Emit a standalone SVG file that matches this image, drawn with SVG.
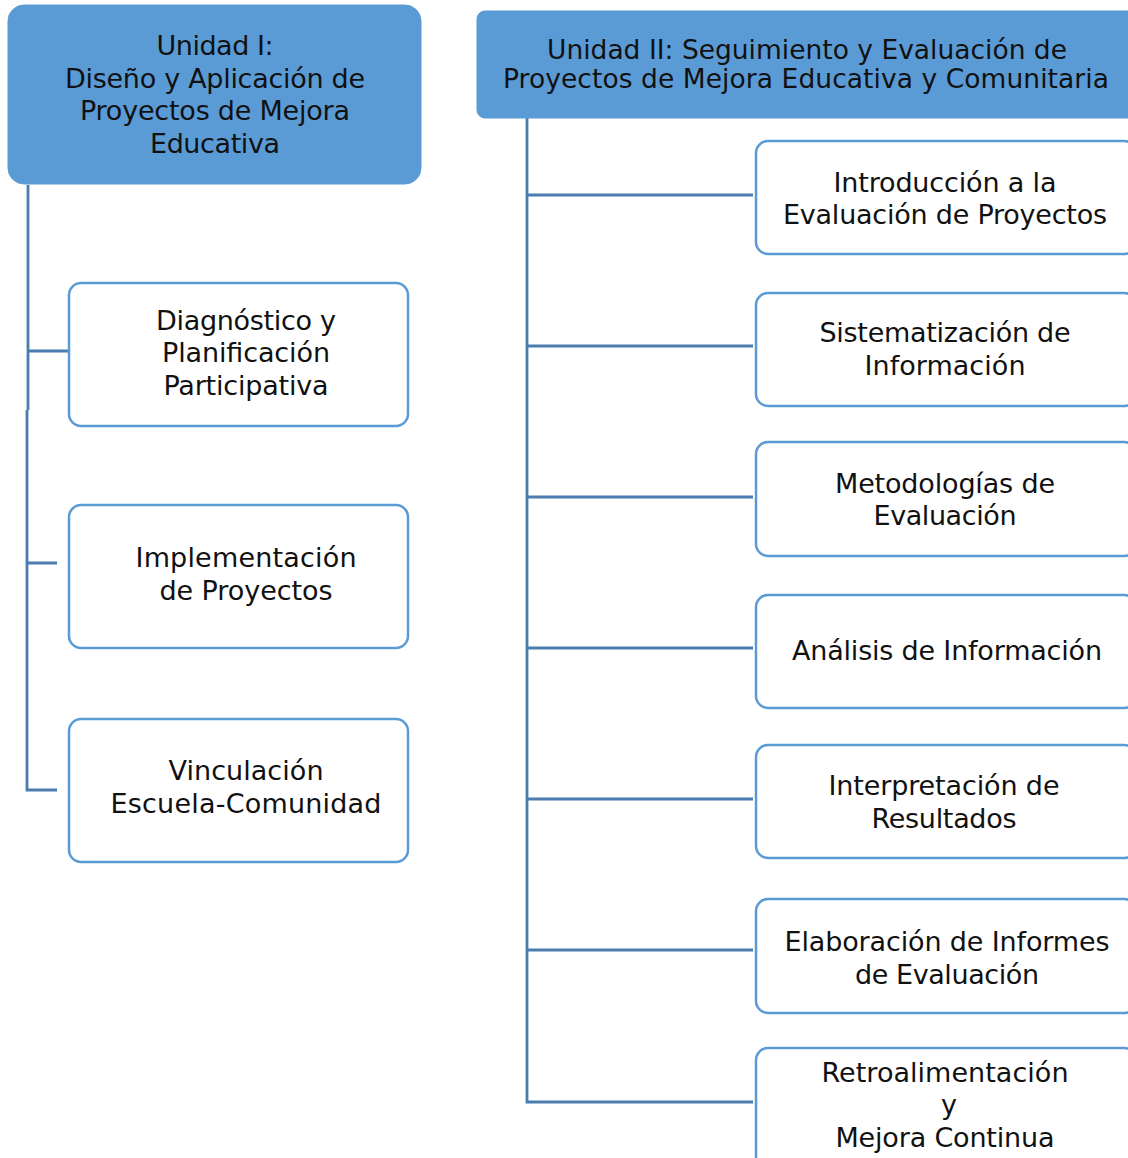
<svg xmlns="http://www.w3.org/2000/svg" width="1128" height="1158" viewBox="0 0 1128 1158">
<style>
.hdr{fill:#5B9BD5;stroke:#5B9BD5;stroke-width:1}
.box{fill:#FFFFFF;stroke:#5B9BD5;stroke-width:2.5}
.t{font-family:"DejaVu Sans","Noto Sans",sans-serif;font-size:27px;fill:#111111;text-anchor:middle}
.th{font-family:"DejaVu Sans","Noto Sans",sans-serif;font-size:26.5px;fill:#111111;text-anchor:middle}
.ln{fill:none;stroke:#4A7CAF;stroke-width:2.8}
</style>
<rect width="1128" height="1158" fill="#FFFFFF"/>
<g id="connectors">
<path class="ln" d="M28,185 V410 M27,410 V790 H57 M28,351 H73 M27,563 H57"/>
<path class="ln" d="M527,118 V1102 H753 M527,195 H753 M527,346 H753 M527,497 H753 M527,648 H753 M527,799 H753 M527,950 H753"/>
</g>
<g id="unidad1">
<rect class="hdr" x="8" y="5" width="413" height="179" rx="16"/>
<text class="t"><tspan x="215" y="55" textLength="117">Unidad I:</tspan><tspan x="215" y="88" textLength="300">Diseño y Aplicación de</tspan><tspan x="215" y="120" textLength="270">Proyectos de Mejora</tspan><tspan x="215" y="153" textLength="130">Educativa</tspan></text>
</g>
<g id="unidad2">
<rect class="hdr" x="477" y="11" width="670" height="107" rx="8"/>
<text class="th"><tspan x="807" y="59" textLength="520">Unidad II: Seguimiento y Evaluación de</tspan><tspan x="806" y="88" textLength="606">Proyectos de Mejora Educativa y Comunitaria</tspan></text>
</g>
<g id="diagnostico">
<rect class="box" x="69" y="283" width="339" height="143" rx="12"/>
<text class="t"><tspan x="246" y="330" textLength="180">Diagnóstico y</tspan><tspan x="246" y="362" textLength="168">Planificación</tspan><tspan x="246" y="395" textLength="165">Participativa</tspan></text>
</g>
<g id="implementacion">
<rect class="box" x="69" y="505" width="339" height="143" rx="12"/>
<text class="t"><tspan x="246" y="567" textLength="221">Implementación</tspan><tspan x="246" y="600" textLength="173">de Proyectos</tspan></text>
</g>
<g id="vinculacion">
<rect class="box" x="69" y="719" width="339" height="143" rx="12"/>
<text class="t"><tspan x="246" y="780" textLength="155">Vinculación</tspan><tspan x="246" y="813" textLength="271">Escuela-Comunidad</tspan></text>
</g>
<g id="introduccion">
<rect class="box" x="756" y="141" width="380" height="113" rx="12"/>
<text class="t"><tspan x="945" y="192" textLength="223">Introducción a la</tspan><tspan x="945" y="224" textLength="324">Evaluación de Proyectos</tspan></text>
</g>
<g id="sistematizacion">
<rect class="box" x="756" y="293" width="380" height="113" rx="12"/>
<text class="t"><tspan x="945" y="342" textLength="251">Sistematización de</tspan><tspan x="945" y="375" textLength="161">Información</tspan></text>
</g>
<g id="metodologias">
<rect class="box" x="756" y="442" width="380" height="114" rx="12"/>
<text class="t"><tspan x="945" y="493" textLength="220">Metodologías de</tspan><tspan x="945" y="525" textLength="143">Evaluación</tspan></text>
</g>
<g id="analisis">
<rect class="box" x="756" y="595" width="380" height="113" rx="12"/>
<text class="t"><tspan x="947" y="660" textLength="310">Análisis de Información</tspan></text>
</g>
<g id="interpretacion">
<rect class="box" x="756" y="745" width="380" height="113" rx="12"/>
<text class="t"><tspan x="944" y="795" textLength="231">Interpretación de</tspan><tspan x="944" y="828" textLength="145">Resultados</tspan></text>
</g>
<g id="elaboracion">
<rect class="box" x="756" y="899" width="380" height="114" rx="12"/>
<text class="t"><tspan x="947" y="951" textLength="325">Elaboración de Informes</tspan><tspan x="947" y="984" textLength="184">de Evaluación</tspan></text>
</g>
<g id="retroalimentacion">
<rect class="box" x="756" y="1048" width="380" height="130" rx="12"/>
<text class="t"><tspan x="945" y="1082" textLength="247">Retroalimentación</tspan><tspan x="949" y="1114">y</tspan><tspan x="945" y="1147" textLength="219">Mejora Continua</tspan></text>
</g>
</svg>
